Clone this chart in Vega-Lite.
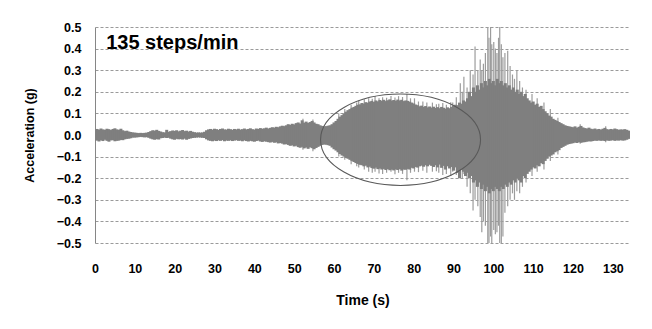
{
  "$schema": "https://vega.github.io/schema/vega-lite/v6.json",
  "width": 535,
  "height": 216,
  "autosize": "none",
  "padding": {"left": 95, "top": 27, "right": 22, "bottom": 86},
  "background": "white",
  "config": {
    "view": {"stroke": null},
    "font": "Liberation Sans",
    "axis": {"labelFont": "Liberation Sans", "titleFont": "Liberation Sans", "labelFontWeight": "bold", "titleFontWeight": "bold", "labelColor": "#000000", "titleColor": "#000000", "labelOverlap": false}
  },
  "datasets": {
    "band": [
      {"t":0,"hi":0.022,"lo":-0.024},{"t":0.5,"hi":0.028,"lo":-0.026},{"t":1,"hi":0.025,"lo":-0.03},{"t":1.5,"hi":0.03,"lo":-0.025},{"t":2,"hi":0.026,"lo":-0.028},{"t":2.5,"hi":0.024,"lo":-0.022},{"t":3,"hi":0.029,"lo":-0.027},{"t":3.5,"hi":0.027,"lo":-0.031},{"t":4,"hi":0.023,"lo":-0.025},{"t":4.5,"hi":0.028,"lo":-0.024},{"t":5,"hi":0.031,"lo":-0.029},{"t":5.5,"hi":0.026,"lo":-0.027},{"t":6,"hi":0.024,"lo":-0.026},{"t":6.5,"hi":0.029,"lo":-0.023},{"t":7,"hi":0.022,"lo":-0.024},{"t":7.5,"hi":0.018,"lo":-0.02},{"t":8,"hi":0.02,"lo":-0.018},{"t":8.5,"hi":0.016,"lo":-0.017},{"t":9,"hi":0.014,"lo":-0.015},{"t":9.5,"hi":0.012,"lo":-0.012},
      {"t":10,"hi":0.011,"lo":-0.012},{"t":10.5,"hi":0.01,"lo":-0.011},{"t":11,"hi":0.009,"lo":-0.01},{"t":11.5,"hi":0.01,"lo":-0.009},{"t":12,"hi":0.009,"lo":-0.01},{"t":12.5,"hi":0.01,"lo":-0.011},{"t":13,"hi":0.011,"lo":-0.01},{"t":13.5,"hi":0.014,"lo":-0.013},{"t":14,"hi":0.018,"lo":-0.017},{"t":14.5,"hi":0.022,"lo":-0.02},{"t":15,"hi":0.02,"lo":-0.022},{"t":15.5,"hi":0.024,"lo":-0.019},{"t":16,"hi":0.019,"lo":-0.021},{"t":16.5,"hi":0.016,"lo":-0.015},{"t":17,"hi":0.013,"lo":-0.014},{"t":17.5,"hi":0.012,"lo":-0.012},{"t":18,"hi":0.024,"lo":-0.014},{"t":18.5,"hi":0.015,"lo":-0.013},{"t":19,"hi":0.018,"lo":-0.017},{"t":19.5,"hi":0.021,"lo":-0.02},
      {"t":20,"hi":0.019,"lo":-0.022},{"t":20.5,"hi":0.022,"lo":-0.018},{"t":21,"hi":0.017,"lo":-0.02},{"t":21.5,"hi":0.02,"lo":-0.019},{"t":22,"hi":0.023,"lo":-0.021},{"t":22.5,"hi":0.018,"lo":-0.017},{"t":23,"hi":0.02,"lo":-0.022},{"t":23.5,"hi":0.016,"lo":-0.018},{"t":24,"hi":0.019,"lo":-0.016},{"t":24.5,"hi":0.015,"lo":-0.014},{"t":25,"hi":0.013,"lo":-0.013},{"t":25.5,"hi":0.011,"lo":-0.012},{"t":26,"hi":0.012,"lo":-0.011},{"t":26.5,"hi":0.011,"lo":-0.012},{"t":27,"hi":0.012,"lo":-0.013},{"t":27.5,"hi":0.015,"lo":-0.014},{"t":28,"hi":0.022,"lo":-0.02},{"t":28.5,"hi":0.026,"lo":-0.025},{"t":29,"hi":0.028,"lo":-0.027},{"t":29.5,"hi":0.025,"lo":-0.029},
      {"t":30,"hi":0.029,"lo":-0.026},{"t":30.5,"hi":0.027,"lo":-0.028},{"t":31,"hi":0.024,"lo":-0.025},{"t":31.5,"hi":0.028,"lo":-0.027},{"t":32,"hi":0.03,"lo":-0.024},{"t":32.5,"hi":0.026,"lo":-0.029},{"t":33,"hi":0.025,"lo":-0.026},{"t":33.5,"hi":0.029,"lo":-0.027},{"t":34,"hi":0.027,"lo":-0.025},{"t":34.5,"hi":0.024,"lo":-0.028},{"t":35,"hi":0.028,"lo":-0.026},{"t":35.5,"hi":0.026,"lo":-0.024},{"t":36,"hi":0.029,"lo":-0.027},{"t":36.5,"hi":0.025,"lo":-0.026},{"t":37,"hi":0.027,"lo":-0.029},{"t":37.5,"hi":0.03,"lo":-0.025},{"t":38,"hi":0.026,"lo":-0.028},{"t":38.5,"hi":0.028,"lo":-0.03},{"t":39,"hi":0.031,"lo":-0.027},{"t":39.5,"hi":0.027,"lo":-0.029},
      {"t":40,"hi":0.025,"lo":-0.031},{"t":40.5,"hi":0.03,"lo":-0.028},{"t":41,"hi":0.028,"lo":-0.026},{"t":41.5,"hi":0.032,"lo":-0.03},{"t":42,"hi":0.029,"lo":-0.032},{"t":42.5,"hi":0.031,"lo":-0.029},{"t":43,"hi":0.034,"lo":-0.031},{"t":43.5,"hi":0.03,"lo":-0.033},{"t":44,"hi":0.033,"lo":-0.035},{"t":44.5,"hi":0.036,"lo":-0.032},{"t":45,"hi":0.034,"lo":-0.036},{"t":45.5,"hi":0.038,"lo":-0.034},{"t":46,"hi":0.036,"lo":-0.039},{"t":46.5,"hi":0.04,"lo":-0.037},{"t":47,"hi":0.043,"lo":-0.04},{"t":47.5,"hi":0.041,"lo":-0.044},{"t":48,"hi":0.045,"lo":-0.042},{"t":48.5,"hi":0.05,"lo":-0.046},{"t":49,"hi":0.047,"lo":-0.05},{"t":49.5,"hi":0.052,"lo":-0.048},
      {"t":50,"hi":0.049,"lo":-0.053},{"t":50.5,"hi":0.055,"lo":-0.05},{"t":51,"hi":0.058,"lo":-0.056},{"t":51.5,"hi":0.053,"lo":-0.059},{"t":52,"hi":0.068,"lo":-0.055},{"t":52.5,"hi":0.057,"lo":-0.062},{"t":53,"hi":0.062,"lo":-0.058},{"t":53.5,"hi":0.056,"lo":-0.064},{"t":54,"hi":0.06,"lo":-0.057},{"t":54.5,"hi":0.065,"lo":-0.061},{"t":55,"hi":0.058,"lo":-0.066},{"t":55.5,"hi":0.052,"lo":-0.06},{"t":56,"hi":0.05,"lo":-0.055},{"t":56.5,"hi":0.045,"lo":-0.05},{"t":57,"hi":0.042,"lo":-0.046},{"t":57.5,"hi":0.04,"lo":-0.044},{"t":58,"hi":0.041,"lo":-0.045},{"t":58.5,"hi":0.043,"lo":-0.047},{"t":59,"hi":0.045,"lo":-0.05},{"t":59.5,"hi":0.05,"lo":-0.058},
      {"t":60,"hi":0.058,"lo":-0.066},{"t":60.5,"hi":0.065,"lo":-0.072},{"t":61,"hi":0.075,"lo":-0.08},{"t":61.5,"hi":0.085,"lo":-0.088},{"t":62,"hi":0.092,"lo":-0.095},{"t":62.5,"hi":0.1,"lo":-0.1},{"t":63,"hi":0.108,"lo":-0.106},{"t":63.5,"hi":0.115,"lo":-0.11},{"t":64,"hi":0.12,"lo":-0.115},{"t":64.5,"hi":0.126,"lo":-0.12},{"t":65,"hi":0.13,"lo":-0.125},{"t":65.5,"hi":0.135,"lo":-0.13},{"t":66,"hi":0.14,"lo":-0.134},{"t":66.5,"hi":0.142,"lo":-0.138},{"t":67,"hi":0.148,"lo":-0.14},{"t":67.5,"hi":0.145,"lo":-0.145},{"t":68,"hi":0.152,"lo":-0.142},{"t":68.5,"hi":0.149,"lo":-0.15},{"t":69,"hi":0.155,"lo":-0.147},{"t":69.5,"hi":0.158,"lo":-0.153},
      {"t":70,"hi":0.153,"lo":-0.156},{"t":70.5,"hi":0.16,"lo":-0.151},{"t":71,"hi":0.156,"lo":-0.158},{"t":71.5,"hi":0.162,"lo":-0.155},{"t":72,"hi":0.158,"lo":-0.16},{"t":72.5,"hi":0.163,"lo":-0.157},{"t":73,"hi":0.157,"lo":-0.162},{"t":73.5,"hi":0.161,"lo":-0.158},{"t":74,"hi":0.165,"lo":-0.163},{"t":74.5,"hi":0.159,"lo":-0.16},{"t":75,"hi":0.162,"lo":-0.164},{"t":75.5,"hi":0.158,"lo":-0.159},{"t":76,"hi":0.164,"lo":-0.162},{"t":76.5,"hi":0.16,"lo":-0.158},{"t":77,"hi":0.163,"lo":-0.165},{"t":77.5,"hi":0.157,"lo":-0.16},{"t":78,"hi":0.16,"lo":-0.161},{"t":78.5,"hi":0.158,"lo":-0.157},{"t":79,"hi":0.154,"lo":-0.16},{"t":79.5,"hi":0.15,"lo":-0.152},
      {"t":80,"hi":0.146,"lo":-0.155},{"t":80.5,"hi":0.141,"lo":-0.148},{"t":81,"hi":0.138,"lo":-0.151},{"t":81.5,"hi":0.133,"lo":-0.145},{"t":82,"hi":0.136,"lo":-0.142},{"t":82.5,"hi":0.13,"lo":-0.147},{"t":83,"hi":0.134,"lo":-0.14},{"t":83.5,"hi":0.128,"lo":-0.145},{"t":84,"hi":0.132,"lo":-0.138},{"t":84.5,"hi":0.127,"lo":-0.143},{"t":85,"hi":0.131,"lo":-0.148},{"t":85.5,"hi":0.125,"lo":-0.14},{"t":86,"hi":0.129,"lo":-0.15},{"t":86.5,"hi":0.124,"lo":-0.137},{"t":87,"hi":0.13,"lo":-0.152},{"t":87.5,"hi":0.126,"lo":-0.143},{"t":88,"hi":0.122,"lo":-0.16},{"t":88.5,"hi":0.128,"lo":-0.145},{"t":89,"hi":0.124,"lo":-0.155},{"t":89.5,"hi":0.13,"lo":-0.148},
      {"t":90,"hi":0.135,"lo":-0.165},{"t":90.5,"hi":0.14,"lo":-0.15},{"t":91,"hi":0.138,"lo":-0.175},{"t":91.5,"hi":0.15,"lo":-0.2},{"t":92,"hi":0.145,"lo":-0.16},{"t":92.5,"hi":0.16,"lo":-0.17},{"t":93,"hi":0.155,"lo":-0.19},{"t":93.5,"hi":0.17,"lo":-0.175},{"t":94,"hi":0.2,"lo":-0.2},{"t":94.5,"hi":0.18,"lo":-0.19},{"t":95,"hi":0.22,"lo":-0.22},{"t":95.5,"hi":0.2,"lo":-0.21},{"t":96,"hi":0.23,"lo":-0.24},{"t":96.5,"hi":0.21,"lo":-0.22},{"t":97,"hi":0.24,"lo":-0.25},{"t":97.5,"hi":0.22,"lo":-0.23},{"t":98,"hi":0.25,"lo":-0.26},{"t":98.5,"hi":0.23,"lo":-0.24},{"t":99,"hi":0.26,"lo":-0.27},{"t":99.5,"hi":0.24,"lo":-0.25},
      {"t":100,"hi":0.25,"lo":-0.26},{"t":100.5,"hi":0.23,"lo":-0.24},{"t":101,"hi":0.26,"lo":-0.25},{"t":101.5,"hi":0.24,"lo":-0.26},{"t":102,"hi":0.25,"lo":-0.24},{"t":102.5,"hi":0.23,"lo":-0.25},{"t":103,"hi":0.24,"lo":-0.23},{"t":103.5,"hi":0.22,"lo":-0.24},{"t":104,"hi":0.23,"lo":-0.22},{"t":104.5,"hi":0.21,"lo":-0.23},{"t":105,"hi":0.22,"lo":-0.21},{"t":105.5,"hi":0.2,"lo":-0.22},{"t":106,"hi":0.21,"lo":-0.2},{"t":106.5,"hi":0.19,"lo":-0.21},{"t":107,"hi":0.2,"lo":-0.22},{"t":107.5,"hi":0.18,"lo":-0.19},{"t":108,"hi":0.19,"lo":-0.2},{"t":108.5,"hi":0.17,"lo":-0.18},{"t":109,"hi":0.16,"lo":-0.17},{"t":109.5,"hi":0.15,"lo":-0.16},
      {"t":110,"hi":0.155,"lo":-0.15},{"t":110.5,"hi":0.14,"lo":-0.155},{"t":111,"hi":0.145,"lo":-0.14},{"t":111.5,"hi":0.13,"lo":-0.145},{"t":112,"hi":0.135,"lo":-0.13},{"t":112.5,"hi":0.12,"lo":-0.135},{"t":113,"hi":0.11,"lo":-0.12},{"t":113.5,"hi":0.1,"lo":-0.11},{"t":114,"hi":0.09,"lo":-0.1},{"t":114.5,"hi":0.085,"lo":-0.095},{"t":115,"hi":0.075,"lo":-0.09},{"t":115.5,"hi":0.07,"lo":-0.08},{"t":116,"hi":0.065,"lo":-0.075},{"t":116.5,"hi":0.06,"lo":-0.07},{"t":117,"hi":0.055,"lo":-0.06},{"t":117.5,"hi":0.05,"lo":-0.055},{"t":118,"hi":0.045,"lo":-0.05},{"t":118.5,"hi":0.042,"lo":-0.045},{"t":119,"hi":0.04,"lo":-0.042},{"t":119.5,"hi":0.038,"lo":-0.04},
      {"t":120,"hi":0.036,"lo":-0.038},{"t":120.5,"hi":0.04,"lo":-0.035},{"t":121,"hi":0.034,"lo":-0.037},{"t":121.5,"hi":0.038,"lo":-0.033},{"t":122,"hi":0.042,"lo":-0.036},{"t":122.5,"hi":0.035,"lo":-0.034},{"t":123,"hi":0.032,"lo":-0.033},{"t":123.5,"hi":0.03,"lo":-0.031},{"t":124,"hi":0.034,"lo":-0.029},{"t":124.5,"hi":0.029,"lo":-0.03},{"t":125,"hi":0.027,"lo":-0.028},{"t":125.5,"hi":0.03,"lo":-0.026},{"t":126,"hi":0.026,"lo":-0.027},{"t":126.5,"hi":0.028,"lo":-0.025},{"t":127,"hi":0.025,"lo":-0.027},{"t":127.5,"hi":0.029,"lo":-0.026},{"t":128,"hi":0.033,"lo":-0.028},{"t":128.5,"hi":0.027,"lo":-0.025},{"t":129,"hi":0.025,"lo":-0.027},{"t":129.5,"hi":0.028,"lo":-0.026},
      {"t":130,"hi":0.026,"lo":-0.024},{"t":130.5,"hi":0.03,"lo":-0.027},{"t":131,"hi":0.027,"lo":-0.025},{"t":131.5,"hi":0.024,"lo":-0.026},{"t":132,"hi":0.026,"lo":-0.024},{"t":132.5,"hi":0.025,"lo":-0.026},{"t":133,"hi":0.027,"lo":-0.025},{"t":133.5,"hi":0.024,"lo":-0.022},{"t":134,"hi":0.02,"lo":-0.018}
    ],
    "spikes": [
      {"t":52.2,"hi":0.075,"lo":-0.068},{"t":54.7,"hi":0.072,"lo":-0.075},{"t":61.2,"hi":0.1,"lo":-0.1},{"t":62.7,"hi":0.12,"lo":-0.115},{"t":64.3,"hi":0.14,"lo":-0.135},{"t":65.7,"hi":0.15,"lo":-0.145},{"t":66.2,"hi":0.16,"lo":-0.15},{"t":67.6,"hi":0.165,"lo":-0.16},{"t":68.7,"hi":0.17,"lo":-0.17},{"t":69.6,"hi":0.168,"lo":-0.175},{"t":70.3,"hi":0.18,"lo":-0.17},{"t":71.3,"hi":0.17,"lo":-0.178},{"t":72.2,"hi":0.175,"lo":-0.18},{"t":73.2,"hi":0.172,"lo":-0.175},{"t":74.3,"hi":0.18,"lo":-0.17},{"t":75.3,"hi":0.174,"lo":-0.182},{"t":76.2,"hi":0.18,"lo":-0.175},{"t":77.2,"hi":0.176,"lo":-0.18},
      {"t":78.3,"hi":0.19,"lo":-0.21},{"t":79.2,"hi":0.17,"lo":-0.175},{"t":80.2,"hi":0.17,"lo":-0.17},{"t":81.2,"hi":0.155,"lo":-0.172},{"t":82.3,"hi":0.155,"lo":-0.165},{"t":83.3,"hi":0.15,"lo":-0.175},{"t":84.7,"hi":0.15,"lo":-0.17},{"t":85.7,"hi":0.142,"lo":-0.168},{"t":86.3,"hi":0.145,"lo":-0.175},{"t":87.3,"hi":0.148,"lo":-0.185},{"t":88.2,"hi":0.14,"lo":-0.18},{"t":89.3,"hi":0.152,"lo":-0.19},{"t":89.8,"hi":0.15,"lo":-0.17},{"t":90.7,"hi":0.175,"lo":-0.185},
      {"t":91.7,"hi":0.24,"lo":-0.2},{"t":92.2,"hi":0.2,"lo":-0.2},{"t":92.6,"hi":0.27,"lo":-0.18},{"t":93.4,"hi":0.22,"lo":-0.24},{"t":94.2,"hi":0.3,"lo":-0.27},{"t":94.9,"hi":0.28,"lo":-0.35},{"t":95.4,"hi":0.41,"lo":-0.3},{"t":96.1,"hi":0.3,"lo":-0.33},{"t":96.7,"hi":0.35,"lo":-0.38},{"t":97.1,"hi":0.3,"lo":-0.45},{"t":97.5,"hi":0.33,"lo":-0.4},{"t":98.0,"hi":0.38,"lo":-0.42},{"t":98.6,"hi":0.5,"lo":-0.5},{"t":98.9,"hi":0.45,"lo":-0.5},{"t":99.3,"hi":0.5,"lo":-0.47},{"t":99.6,"hi":0.42,"lo":-0.5},{"t":100.1,"hi":0.43,"lo":-0.44},{"t":100.5,"hi":0.4,"lo":-0.46},{"t":100.9,"hi":0.38,"lo":-0.45},{"t":101.3,"hi":0.45,"lo":-0.42},{"t":101.6,"hi":0.5,"lo":-0.5},{"t":102.0,"hi":0.42,"lo":-0.5},{"t":102.4,"hi":0.36,"lo":-0.47},{"t":102.9,"hi":0.38,"lo":-0.36},{"t":103.6,"hi":0.39,"lo":-0.33},{"t":104.2,"hi":0.32,"lo":-0.3},{"t":104.8,"hi":0.28,"lo":-0.27},{"t":105.3,"hi":0.26,"lo":-0.3},{"t":105.9,"hi":0.3,"lo":-0.26},{"t":106.6,"hi":0.25,"lo":-0.27},{"t":107.3,"hi":0.22,"lo":-0.24},{"t":108.2,"hi":0.21,"lo":-0.22},
      {"t":109.7,"hi":0.19,"lo":-0.19},{"t":111.0,"hi":0.17,"lo":-0.17},{"t":112.7,"hi":0.15,"lo":-0.16},{"t":114.3,"hi":0.12,"lo":-0.12},{"t":116.2,"hi":0.08,"lo":-0.09},{"t":121.8,"hi":0.05,"lo":-0.04},{"t":128.2,"hi":0.04,"lo":-0.033}
    ],
    "ellipse": [{"t":76.7,"a":-0.022}],
    "label": [{"t":2.8,"a":0.424,"text":"135 steps/min"}]
  },
  "layer": [
    {
      "data": {"name": "spikes"},
      "mark": {"type": "rule", "color": "#9c9c9c", "strokeWidth": 1.2, "clip": true},
      "encoding": {
        "x": {"field": "t", "type": "quantitative", "scale": {"domain": [0, 134.3], "nice": false, "zero": false},
          "axis": {"values": [0,10,20,30,40,50,60,70,80,90,100,110,120,130], "tickCount": 30, "title": "Time (s)", "titleFontSize": 14, "titlePadding": 19, "labelFontSize": 12.5, "labelPadding": 19, "ticks": false, "tickSize": 0, "domain": false, "grid": false, "labelFlush": false, "labelOverlap": false}},
        "y": {"field": "hi", "type": "quantitative", "scale": {"domain": [-0.5, 0.5], "nice": false},
          "axis": {"values": [-0.5,-0.4,-0.3,-0.2,-0.1,0,0.1,0.2,0.3,0.4,0.5], "tickCount": 30, "format": ".1f", "title": "Acceleration (g)", "titleFontSize": 12.5, "titlePadding": 20, "labelFontSize": 12.5, "labelPadding": 14, "ticks": false, "tickSize": 0, "domain": true, "domainColor": "#868686", "domainWidth": 1, "grid": true, "gridColor": "#9a9a9a", "gridDash": [3, 2], "gridWidth": 1, "labelFlush": false, "labelOverlap": false}},
        "y2": {"field": "lo"}
      }
    },
    {
      "data": {"name": "band"},
      "mark": {"type": "rule", "color": "#7f7f7f", "strokeWidth": 3, "clip": true},
      "encoding": {
        "x": {"field": "t", "type": "quantitative"},
        "y": {"field": "hi", "type": "quantitative"},
        "y2": {"field": "lo"}
      }
    },
    {
      "data": {"name": "ellipse"},
      "mark": {"type": "point", "shape": "M-1,0A1,0.571,0,1,1,1,0A1,0.571,0,1,1,-1,0Z", "size": 25600, "filled": false, "stroke": "#595959", "strokeWidth": 1.1, "opacity": 1},
      "encoding": {
        "x": {"field": "t", "type": "quantitative"},
        "y": {"field": "a", "type": "quantitative"}
      }
    },
    {
      "data": {"name": "label"},
      "mark": {"type": "text", "align": "left", "baseline": "middle", "font": "Liberation Sans", "fontWeight": "bold", "fontSize": 20, "color": "#000000"},
      "encoding": {
        "x": {"field": "t", "type": "quantitative"},
        "y": {"field": "a", "type": "quantitative"},
        "text": {"field": "text"}
      }
    }
  ]
}
